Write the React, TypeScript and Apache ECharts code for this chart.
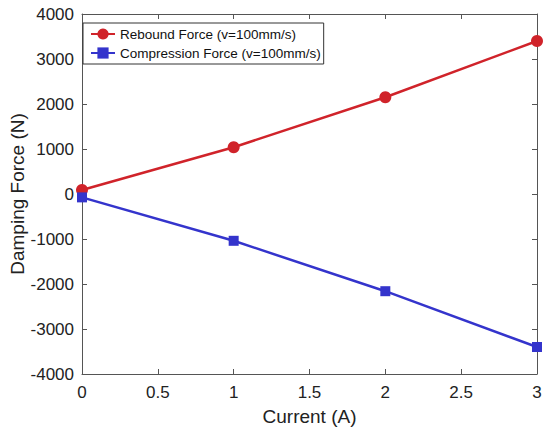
import React, { useEffect, useRef } from "react";
import * as echarts from "echarts";

const currents = [0, 1, 2, 3];
const reboundForce = [90, 1040, 2150, 3400];
const compressionForce = [-75, -1040, -2160, -3400];
const xTicks = { min: 0, max: 3, interval: 0.5 };
const yTicks = { min: -4000, max: 4000, interval: 1000 };
const seriesNames = ["Rebound Force (v=100mm/s)", "Compression Force (v=100mm/s)"];

const RED = "#d0232a";
const BLUE = "#3434cc";
const AXIS = "#555555";
const FONT = "Liberation Sans, Arial, Helvetica, sans-serif";

export default function App() {
  const ref = useRef<HTMLDivElement>(null);
  useEffect(() => {
    if (!ref.current) return;
    const chart = echarts.init(ref.current, undefined, { renderer: "svg" });
    const axisBase = {
      type: "value" as const,
      axisLine: { show: true, onZero: false, lineStyle: { color: AXIS, width: 1 } },
      axisTick: { show: true, inside: true, length: 5, lineStyle: { color: AXIS } },
      splitLine: { show: false },
    };
    chart.setOption({
      animation: false,
      backgroundColor: "#ffffff",
      textStyle: { fontFamily: FONT },
      grid: {
        left: 82,
        right: 13,
        top: 14,
        bottom: 61,
        containLabel: false,
        outerBoundsMode: "none",
      },
      legend: {
        orient: "vertical",
        left: 83,
        top: 23,
        padding: [4, 3, 4, 7],
        itemGap: 5,
        itemWidth: 24,
        itemHeight: 14,
        borderColor: "#333333",
        borderWidth: 1,
        backgroundColor: "#ffffff",
        textStyle: { fontSize: 13.5, color: "#111111", fontFamily: FONT },
        data: seriesNames,
      },
      xAxis: [
        {
          ...axisBase,
          position: "bottom",
          min: xTicks.min,
          max: xTicks.max,
          interval: xTicks.interval,
          name: "Current (A)",
          nameLocation: "middle",
          nameGap: 33,
          nameMoveOverlap: false,
          nameTextStyle: { fontSize: 19, color: "#222222", fontFamily: FONT },
          axisLabel: {
            fontSize: 17,
            color: "#222222",
            margin: 10,
            fontFamily: FONT,
            formatter: (v: number) => String(v),
          },
        },
        {
          ...axisBase,
          position: "top",
          min: xTicks.min,
          max: xTicks.max,
          interval: xTicks.interval,
          axisLabel: { show: false },
        },
      ],
      yAxis: [
        {
          ...axisBase,
          position: "left",
          min: yTicks.min,
          max: yTicks.max,
          interval: yTicks.interval,
          name: "Damping Force (N)",
          nameLocation: "middle",
          nameGap: 55,
          nameMoveOverlap: false,
          nameTextStyle: { fontSize: 19, color: "#222222", fontFamily: FONT },
          axisLabel: {
            fontSize: 17,
            color: "#222222",
            margin: 8,
            fontFamily: FONT,
            formatter: (v: number) => String(v),
          },
        },
        {
          ...axisBase,
          position: "right",
          min: yTicks.min,
          max: yTicks.max,
          interval: yTicks.interval,
          axisLabel: { show: false },
        },
      ],
      series: [
        {
          name: seriesNames[0],
          type: "line",
          clip: false,
          data: currents.map((c, i) => [c, reboundForce[i]]),
          symbol: "circle",
          symbolSize: 12,
          itemStyle: { color: RED },
          lineStyle: { color: RED, width: 2.5 },
        },
        {
          name: seriesNames[1],
          type: "line",
          clip: false,
          data: currents.map((c, i) => [c, compressionForce[i]]),
          symbol: "rect",
          symbolSize: 10,
          itemStyle: { color: BLUE },
          lineStyle: { color: BLUE, width: 2.5 },
        },
      ],
    });
    return () => chart.dispose();
  }, []);
  return (
    <div
      ref={ref}
      style={{ position: "fixed", left: 0, top: 0, width: 550, height: 435, background: "#fff" }}
    />
  );
}
